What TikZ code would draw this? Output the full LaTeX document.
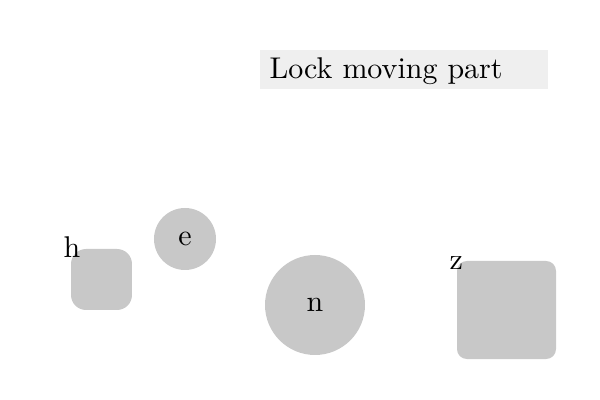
\documentclass[tikz,border=0pt]{standalone}
\usetikzlibrary{positioning}
\definecolor{shapegray}{HTML}{C8C8C8}
\definecolor{boxgray}{HTML}{EFEFEF}
\tikzset{
  px/.style={x=0.33333pt,y=-0.33333pt},
  roundsq/.style={draw=none,fill=shapegray,rectangle,inner sep=0pt},
  disc/.style={draw=none,fill=shapegray,circle,inner sep=0pt},
  titlebox/.style={draw=none,fill=boxgray,rectangle,inner sep=0pt,minimum width=96pt,minimum height=13pt},
  tag/.style={inner sep=0pt}
}
\begin{document}
\begin{tikzpicture}[px]
\useasboundingbox (0,0) rectangle (600,400);
\node[titlebox] (t) at (404,69.5) {};
\node[tag,anchor=base west] (tt) at (269,79) {Lock moving part};
\node[roundsq,minimum width=20.33pt,minimum height=20.33pt,rounded corners=5pt] (h) at (101.5,279.5) {};
\node[tag,anchor=base,yshift=-3pt,xshift=0.5pt] (hl) at (h.north west) {h};
\node[disc,minimum size=20.67pt] (e) at (185,239) {e};
\node[disc,minimum size=33.33pt] (n) at (315,305) {n};
\node[roundsq,minimum width=33pt,minimum height=32.67pt,rounded corners=3.3pt] (z) at (506.5,310) {};
\node[tag,anchor=base,yshift=-3pt,xshift=0pt] (zl) at (z.north west) {z};
\end{tikzpicture}
\end{document}
